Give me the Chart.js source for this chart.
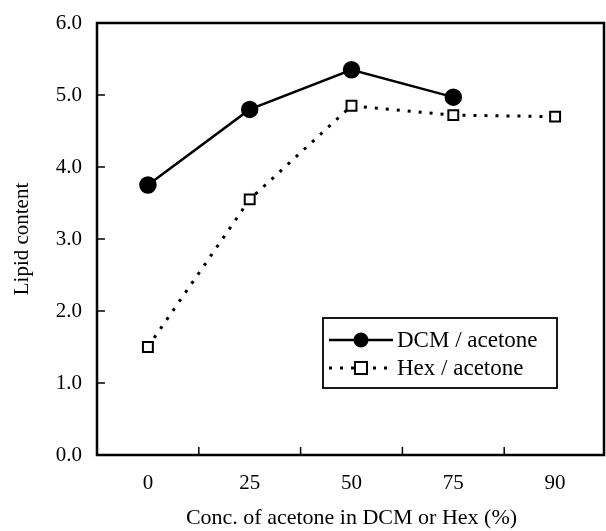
<!DOCTYPE html>
<html>
<head>
<meta charset="utf-8">
<script src="https://cdn.jsdelivr.net/npm/chart.js@4/dist/chart.umd.min.js"></script>
<style>
  html, body { margin: 0; padding: 0; background: #fff; overflow: hidden; }
  canvas { display: block; }
</style>
</head>
<body>
<canvas id="lipidChart" width="606" height="531"></canvas>
<script>
const categories = ["0", "25", "50", "75", "90"];
const dcmValues = [3.75, 4.8, 5.35, 4.97, null];
const hexValues = [1.5, 3.55, 4.85, 4.72, 4.7];
const yTicks = [0, 1, 2, 3, 4, 5, 6];

const FONT = "'Liberation Serif', 'DejaVu Serif', serif";

// frame + inward tick marks
const framePlugin = {
  id: "frame",
  afterDraw(chart) {
    const { ctx, chartArea: a, scales } = chart;
    ctx.save();
    ctx.strokeStyle = "#000";
    ctx.lineWidth = 2.5;
    ctx.strokeRect(a.left, a.top, a.right - a.left - 2, a.bottom - a.top);
    ctx.lineWidth = 1.5;
    yTicks.forEach((v) => {
      const y = scales.y.getPixelForValue(v);
      ctx.beginPath();
      ctx.moveTo(a.left, y);
      ctx.lineTo(a.left + 8, y);
      ctx.stroke();
    });
    for (let i = 1; i < categories.length; i++) {
      const x = (scales.x.getPixelForValue(i - 1) + scales.x.getPixelForValue(i)) / 2;
      ctx.beginPath();
      ctx.moveTo(x, a.bottom);
      ctx.lineTo(x, a.bottom - 8);
      ctx.stroke();
    }
    ctx.restore();
  },
};

// boxed legend inside the plot
const boxLegend = {
  id: "boxLegend",
  afterDraw(chart) {
    const { ctx, chartArea: a } = chart;
    const left = a.left + 226, top = a.top + 295, w = 234, h = 70;
    ctx.save();
    ctx.fillStyle = "#fff";
    ctx.fillRect(left, top, w, h);
    ctx.strokeStyle = "#000";
    ctx.lineWidth = 1.8;
    ctx.strokeRect(left, top, w, h);

    const rows = [
      { ds: chart.data.datasets[0], y: top + 22 },
      { ds: chart.data.datasets[1], y: top + 50 },
    ];
    rows.forEach(({ ds, y }) => {
      ctx.strokeStyle = "#000";
      ctx.lineWidth = ds.borderWidth;
      ctx.setLineDash(ds.borderDash || []);
      ctx.beginPath();
      ctx.moveTo(left + 6, y);
      ctx.lineTo(left + 70, y);
      ctx.stroke();
      ctx.setLineDash([]);
      const cx = left + 38;
      if (ds.pointStyle === "circle") {
        ctx.fillStyle = "#000";
        ctx.beginPath();
        ctx.arc(cx, y, 7.5, 0, Math.PI * 2);
        ctx.fill();
      } else {
        ctx.fillStyle = "#fff";
        ctx.lineWidth = 2;
        ctx.fillRect(cx - 6, y - 6, 12, 12);
        ctx.strokeRect(cx - 6, y - 6, 12, 12);
      }
      ctx.fillStyle = "#000";
      ctx.font = "23px " + FONT;
      ctx.textBaseline = "middle";
      ctx.fillText(ds.label, left + 74, y + 1);
    });
    ctx.restore();
  },
};

new Chart(document.getElementById("lipidChart"), {
  type: "line",
  data: {
    labels: categories,
    datasets: [
      {
        label: "DCM / acetone",
        data: dcmValues,
        borderColor: "#000",
        borderWidth: 2.5,
        pointStyle: "circle",
        pointRadius: 7.5,
        pointBackgroundColor: "#000",
        pointBorderColor: "#000",
        fill: false,
        tension: 0,
      },
      {
        label: "Hex / acetone",
        data: hexValues,
        borderColor: "#000",
        borderWidth: 3,
        borderDash: [3, 8],
        pointStyle: "rect",
        pointRadius: 7,
        pointBackgroundColor: "#fff",
        pointBorderColor: "#000",
        pointBorderWidth: 2,
        fill: false,
        tension: 0,
      },
    ],
  },
  options: {
    responsive: false,
    animation: false,
    layout: {
      autoPadding: false,
      padding: { top: 23, right: 0, left: 0, bottom: 0 },
    },
    plugins: {
      legend: { display: false },
      tooltip: { enabled: false },
    },
    scales: {
      x: {
        type: "category",
        offset: true,
        grid: { display: false },
        border: { display: false },
        ticks: {
          color: "#000",
          font: { family: FONT, size: 21 },
          padding: 8,
        },
        title: {
          display: true,
          text: "Conc. of acetone in DCM or Hex (%)",
          color: "#000",
          font: { family: FONT, size: 22 },
          padding: { top: 0, bottom: 0 },
        },
        afterFit(scale) {
          scale.height = 76;
          scale.paddingLeft = 0;
          scale.paddingRight = 0;
        },
      },
      y: {
        min: 0,
        max: 6,
        grid: { display: false },
        border: { display: false },
        ticks: {
          stepSize: 1,
          color: "#000",
          font: { family: FONT, size: 21 },
          padding: 7,
          callback: (v) => v.toFixed(1),
        },
        title: {
          display: true,
          text: "Lipid content",
          color: "#000",
          font: { family: FONT, size: 21 },
          padding: { top: 10, bottom: 0 },
        },
        afterFit(scale) { scale.width = 97; },
      },
    },
  },
  plugins: [framePlugin, boxLegend],
});
</script>
</body>
</html>
